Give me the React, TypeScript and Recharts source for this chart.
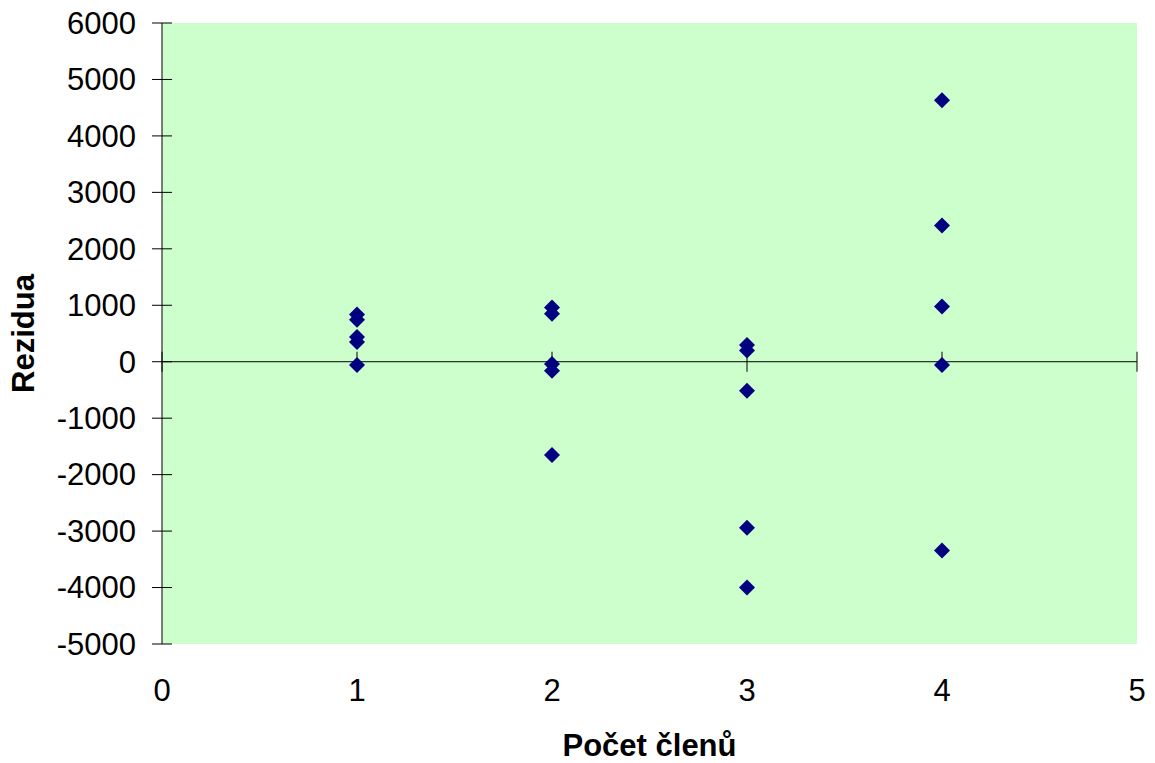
import React from 'react'
import {
	ScatterChart,
	Scatter,
	XAxis,
	YAxis,
	CartesianGrid,
	ReferenceLine,
	Label,
} from 'recharts'

// Residual plot: number of members vs. residuals
const MEMBERS = [1, 1, 1, 1, 1, 2, 2, 2, 2, 2, 3, 3, 3, 3, 3, 4, 4, 4, 4, 4]
const RESIDUALS = [
	838, 744, 438, 349, -60,
	962, 850, -41, -160, -1654,
	296, 200, -514, -2942, -4000,
	4631, 2415, 980, -58, -3344,
]
const X_TICKS = [0, 1, 2, 3, 4, 5]
const Y_TICKS = [-5000, -4000, -3000, -2000, -1000, 0, 1000, 2000, 3000, 4000, 5000, 6000]
const X_TITLE = 'Počet členů'
const Y_TITLE = 'Rezidua'

const data = MEMBERS.map((m, i) => ({ x: m, y: RESIDUALS[i] }))

const FONT = '"Liberation Sans", Arial, sans-serif'
const PLOT_BG = '#ccffcc'
const MARKER = '#000080'

function YTick({ x, y, payload }: any) {
	return (
		<g>
			<line x1={x - 10} x2={x + 10} y1={y} y2={y} stroke="#000" strokeWidth={1} />
			<text x={x - 26} y={y} dy="0.35em" textAnchor="end" fontFamily={FONT} fontSize={31} fill="#000">
				{payload.value}
			</text>
		</g>
	)
}

function XTick({ x, y, payload }: any) {
	return (
		<text x={x} y={y + 46} dy="0.35em" textAnchor="middle" fontFamily={FONT} fontSize={31} fill="#000">
			{payload.value}
		</text>
	)
}

// zero line with crossing tick marks at each x tick
function ZeroLine({ x1, y1, x2 }: any) {
	const lo = X_TICKS[0]
	const hi = X_TICKS[X_TICKS.length - 1]
	return (
		<g>
			<line x1={x1} x2={x2} y1={y1} y2={y1} stroke="#000" strokeWidth={1} />
			{X_TICKS.map((t) => {
				const tx = x1 + ((t - lo) / (hi - lo)) * (x2 - x1)
				return <line key={t} x1={tx} x2={tx} y1={y1 - 10} y2={y1 + 10} stroke="#000" strokeWidth={1} />
			})}
		</g>
	)
}

function Diamond({ cx, cy }: any) {
	const r = 8
	return (
		<polygon
			points={`${cx},${cy - r} ${cx + r},${cy} ${cx},${cy + r} ${cx - r},${cy}`}
			fill={MARKER}
		/>
	)
}

export default function App() {
	return (
		<div style={{ width: 1155, height: 763, background: '#fff' }}>
			<style>{'body{margin:0}'}</style>
			<ScatterChart width={1155} height={763} margin={{ top: 23, right: 18, bottom: 0, left: 0 }}>
				<CartesianGrid fill={PLOT_BG} stroke="none" horizontal={false} vertical={false} />
				<XAxis
					type="number"
					dataKey="x"
					domain={[0, 5]}
					ticks={X_TICKS}
					height={119}
					axisLine={false}
					tickLine={false}
					tickSize={0}
					tickMargin={0}
					tick={<XTick />}
					interval={0}
				>
					<Label
						content={({ viewBox }: any) => (
							<text
								x={viewBox.x + viewBox.width / 2}
								y={756}
								textAnchor="middle"
								fontFamily={FONT}
								fontSize={31}
								fontWeight="bold"
								fill="#000"
							>
								{X_TITLE}
							</text>
						)}
					/>
				</XAxis>
				<YAxis
					type="number"
					dataKey="y"
					domain={[-5000, 6000]}
					ticks={Y_TICKS}
					width={162}
					axisLine={{ stroke: '#000', strokeWidth: 1 }}
					tickLine={false}
					tickSize={0}
					tickMargin={0}
					tick={<YTick />}
					interval={0}
				>
					<Label
						content={({ viewBox }: any) => {
							const cy = viewBox.y + viewBox.height / 2
							return (
								<text
									x={23}
									y={cy}
									transform={`rotate(-90, 23, ${cy})`}
									dy="0.35em"
									textAnchor="middle"
									fontFamily={FONT}
									fontSize={31}
									fontWeight="bold"
									fill="#000"
								>
									{Y_TITLE}
								</text>
							)
						}}
					/>
				</YAxis>
				<ReferenceLine y={0} shape={<ZeroLine />} />
				<Scatter data={data} shape={<Diamond />} isAnimationActive={false} />
			</ScatterChart>
		</div>
	)
}
